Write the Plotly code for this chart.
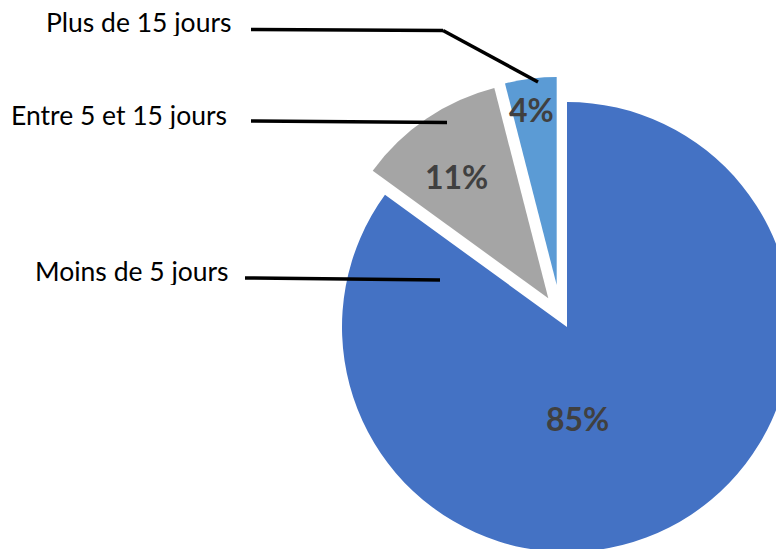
import plotly.graph_objects as go

# ---- data ----
categories = ["Moins de 5 jours", "Entre 5 et 15 jours", "Plus de 15 jours"]
values = [85, 11, 4]
colors = ["#4472C4", "#A5A5A5", "#5B9BD5"]

# ---- layout constants (screen pixels of the target picture) ----
W, H = 784, 549
OFF = 8  # page body margin shifts the figure by this much on screen
# each slice drawn as its own pie so exploded slices keep full size: (center x, center y, radius)
slice_geom = [(567, 327, 225), (548.3, 298.3, 217), (556.7, 285, 208)]
pct_pos = [(577, 418), (456, 176), (531, 110)]
label_pos = [(231, 271), (229, 115), (233, 22)]
leader_lines = [
    [(245, 278), (440, 280)],
    [(251, 121), (447, 122.5)],
    [(251, 29.5), (443, 30.5), (538, 82)],
]


def fx(x):
    return x - OFF


def fy(y):
    return y - OFF


def px(x, y):
    return fx(x) / W, 1 - fy(y) / H


fig = go.Figure()
total = sum(values)
for i, (cx, cy, r) in enumerate(slice_geom):
    cols = [c if j == i else "rgba(0,0,0,0)" for j, c in enumerate(colors)]
    cxf, cyf = fx(cx), fy(cy)
    x0, x1 = max(0, (cxf - r) / W), min(1, (cxf + r) / W)
    yb = H - cyf
    y0, y1 = max(0, (yb - r) / H), min(1, (yb + r) / H)
    fig.add_trace(go.Pie(
        labels=categories, values=values, sort=False,
        direction="clockwise", rotation=0,
        marker=dict(colors=cols, line=dict(width=0)),
        textinfo="none", hoverinfo="skip" if i else "label+percent",
        domain=dict(x=[x0, x1], y=[y0, y1]),
        showlegend=False,
    ))

annotations = []
for v, (x, y) in zip(values, pct_pos):
    ax, ay = px(x, y)
    annotations.append(dict(
        x=ax, y=ay, xref="paper", yref="paper", showarrow=False,
        text=f"<b>{round(100 * v / total)}%</b>",
        font=dict(family="Lato", size=32, color="#404040"),
        xanchor="center", yanchor="middle",
    ))
for lab, (x, y) in zip(categories, label_pos):
    ax, ay = px(x, y)
    annotations.append(dict(
        x=ax, y=ay, xref="paper", yref="paper", showarrow=False,
        text=lab, font=dict(family="Lato", size=26.5, color="#000000"),
        xanchor="right", yanchor="middle", height=28,
    ))

shapes = []
for pts in leader_lines:
    for (xa, ya), (xb, yb) in zip(pts[:-1], pts[1:]):
        pa, pb = px(xa, ya), px(xb, yb)
        shapes.append(dict(type="line", xref="paper", yref="paper",
                           x0=pa[0], y0=pa[1], x1=pb[0], y1=pb[1],
                           line=dict(color="#000000", width=3.5)))

fig.update_layout(
    width=W, height=H,
    margin=dict(l=0, r=0, t=0, b=0, pad=0),
    paper_bgcolor="white", plot_bgcolor="white",
    annotations=annotations, shapes=shapes,
    showlegend=False,
)

fig.write_html("out.html")
